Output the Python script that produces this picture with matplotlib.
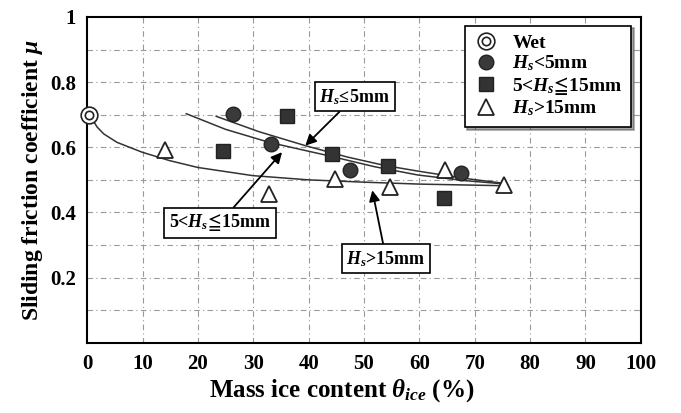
import matplotlib
matplotlib.use('Agg')
import matplotlib.pyplot as plt
from matplotlib.lines import Line2D

plt.rcParams['font.family'] = ['Liberation Serif', 'DejaVu Serif']
plt.rcParams['font.weight'] = 'bold'
plt.rcParams['mathtext.fontset'] = 'custom'
plt.rcParams['mathtext.it'] = 'Liberation Serif:italic:bold'
plt.rcParams['mathtext.rm'] = 'Liberation Serif:bold'
plt.rcParams['mathtext.bf'] = 'Liberation Serif:bold'
plt.rcParams['mathtext.fallback'] = 'stix'

# %% data
wet_x = [0.3]
wet_y = [0.70]

hs5_x = [26.3, 33.2, 47.5, 67.6]
hs5_y = [0.703, 0.61, 0.53, 0.522]

hs15_x = [24.5, 36.1, 44.3, 54.4, 64.4]
hs15_y = [0.59, 0.695, 0.578, 0.543, 0.444]

hsbig_x = [14.0, 32.8, 44.8, 54.7, 64.6, 75.3]
hsbig_y = [0.592, 0.457, 0.503, 0.477, 0.53, 0.485]

# fitted trend lines
fit_big_x = [0.3, 0.9, 1.8, 3.0, 5.4, 9.9, 14.9, 20, 29.9, 40, 49.9, 60, 75.3]
fit_big_y = [0.70, 0.687, 0.662, 0.641, 0.615, 0.585, 0.559, 0.538, 0.513, 0.50, 0.493, 0.487, 0.482]

fit_15_x = [17.9, 25.0, 32.9, 43.6, 52.0, 59.7, 68.0, 75.0]
fit_15_y = [0.703, 0.655, 0.615, 0.574, 0.540, 0.515, 0.498, 0.488]

fit_5_x = [23.3, 31.0, 39.4, 47.0, 53.8, 59.7, 68.0, 75.0]
fit_5_y = [0.695, 0.648, 0.605, 0.570, 0.544, 0.527, 0.505, 0.490]

xticks = [0, 10, 20, 30, 40, 50, 60, 70, 80, 90, 100]
yticks = [0.2, 0.4, 0.6, 0.8, 1.0]
ytick_labels = ['0.2', '0.4', '0.6', '0.8', '1']

# %% plot
fig = plt.figure(figsize=(6.81, 4.13), dpi=100)
ax = fig.add_axes([0.128, 0.17, 0.813, 0.789])

ax.set_xlim(0, 100)
ax.set_ylim(0, 1.0)

grid_style = dict(color='#999999', lw=0.8, ls=(0, (5, 3, 1, 3)), zorder=0)
for xv in range(10, 100, 10):
    ax.axvline(xv, **grid_style)
for yv in [0.1, 0.2, 0.3, 0.4, 0.5, 0.6, 0.7, 0.8, 0.9]:
    ax.axhline(yv, **grid_style)

ax.plot(fit_big_x, fit_big_y, color='#333333', lw=1.1, zorder=2)
ax.plot(fit_15_x, fit_15_y, color='#333333', lw=1.1, zorder=2)
ax.plot(fit_5_x, fit_5_y, color='#333333', lw=1.1, zorder=2)

ax.plot(wet_x, wet_y, ls='none', marker='o', ms=12, mfc='white', mec='#222222', mew=1.2, zorder=4, clip_on=False)
ax.plot(wet_x, wet_y, ls='none', marker='o', ms=6, mfc='white', mec='#222222', mew=1.2, zorder=5, clip_on=False)
ax.plot(hs5_x, hs5_y, ls='none', marker='o', ms=10.5, mfc='#3a3a3a', mec='#222222', zorder=4)
ax.plot(hs15_x, hs15_y, ls='none', marker='s', ms=10, mfc='#333333', mec='#222222', zorder=4)
ax.plot(hsbig_x, hsbig_y, ls='none', marker='^', ms=11, mfc='white', mec='#222222', mew=1.3, zorder=4)

box = dict(boxstyle='square,pad=0.25', fc='white', ec='black', lw=1.2)
arrow = dict(arrowstyle='-|>', color='black', lw=1.3, mutation_scale=16, shrinkA=0, shrinkB=0)
ax.annotate(r'$H_s\!\leq\!$5mm', xy=(39.4, 0.605), xytext=(48.3, 0.755), fontsize=13,
            ha='center', va='center', bbox=box, arrowprops=arrow, zorder=6)
ax.annotate(r'5<$H_s\!\leqq\!$15mm', xy=(35.2, 0.585), xytext=(24.0, 0.368), fontsize=13,
            ha='center', va='center', bbox=box, arrowprops=arrow, zorder=6)
ax.annotate(r'$H_s$>15mm', xy=(51.5, 0.468), xytext=(54.0, 0.258), fontsize=13,
            ha='center', va='center', bbox=box, arrowprops=arrow, zorder=6)

ax.set_xticks(xticks)
ax.set_yticks(yticks)
ax.set_yticklabels(ytick_labels)
ax.tick_params(length=0, labelsize=15, pad=8)
for s in ax.spines.values():
    s.set_linewidth(1.5)

ax.set_xlabel(r'Mass ice content $\theta_{ice}$ (%)', fontsize=18, fontweight='bold', labelpad=2)
ax.xaxis.set_label_coords(0.46, -0.105)
ax.set_ylabel(r'Sliding friction coefficient $\mu$', fontsize=17, fontweight='bold', labelpad=4)

h_wet = (Line2D([], [], ls='none', marker='o', ms=12, mfc='white', mec='#222222', mew=1.2),
         Line2D([], [], ls='none', marker='o', ms=6, mfc='white', mec='#222222', mew=1.2))
h5 = Line2D([], [], ls='none', marker='o', ms=10.5, mfc='#3a3a3a', mec='#222222')
h15 = Line2D([], [], ls='none', marker='s', ms=10, mfc='#333333', mec='#222222')
hbig = Line2D([], [], ls='none', marker='^', ms=11, mfc='white', mec='#222222', mew=1.3)
leg = ax.legend([h_wet, h5, h15, hbig],
                ['Wet', r'$H_s$<5mm', r'5<$H_s\!\leqq\!$15mm', r'$H_s$>15mm'],
                loc='upper right', bbox_to_anchor=(0.99, 0.985), fontsize=14, frameon=True,
                fancybox=False, shadow=True, edgecolor='black', framealpha=1,
                handlelength=1.3, handletextpad=0.7, labelspacing=0.08, borderpad=0.45,
                borderaxespad=0.2)
leg.get_frame().set_linewidth(1.2)

fig.savefig('out.png', dpi=100)
